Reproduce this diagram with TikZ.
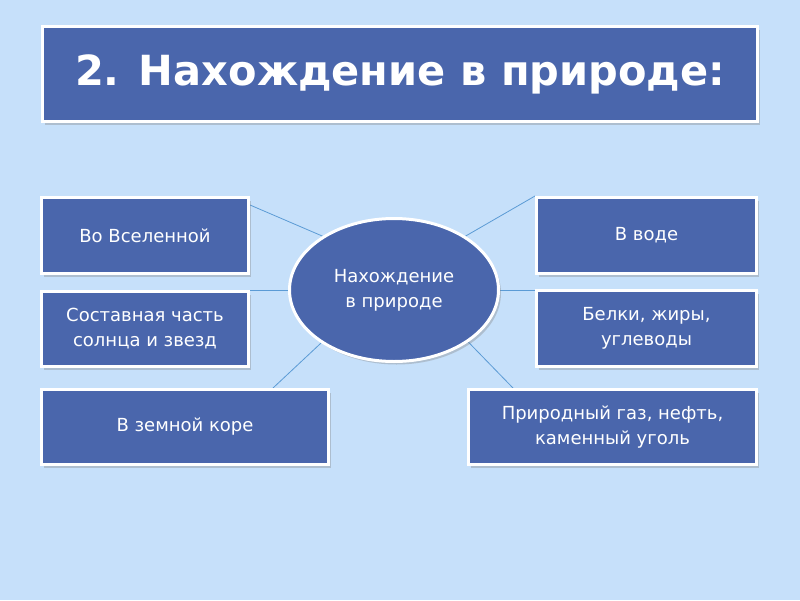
\documentclass[tikz,border=0pt]{standalone}
\usepackage{fontspec}
\setmainfont{DejaVu Sans}
\usetikzlibrary{shapes.geometric,shadows,calc,backgrounds}

\definecolor{hgblau}{RGB}{198,224,250}
\definecolor{kastenblau}{RGB}{74,102,172}
\definecolor{linienblau}{RGB}{91,155,213}

\tikzset{
  kasten/.style={draw=white, line width=3pt, fill=kastenblau, text=white,
    align=center, inner sep=0pt, font=\fontsize{18}{25}\selectfont,
    drop shadow={shadow xshift=2.5pt, shadow yshift=-3pt, opacity=0.35}},
  verbindung/.style={draw=linienblau, line width=0.8pt}
}

\begin{document}
\begin{tikzpicture}[x=1pt,y=-1pt]
\useasboundingbox (0,0) rectangle (800,600);

% Titel
\node[kasten, minimum width=715, minimum height=95,
      font=\fontsize{41.5}{48}\selectfont\bfseries] (titel) at (400,74)
      {2. Нахождение в природе:};

% Mitte
\node[kasten, ellipse, minimum width=209, minimum height=143] (mitte) at (394,290)
      {Нахождение\\в природе};

% Kästen links
\node[kasten, minimum width=207, minimum height=76] (all) at (145,235.5) {Во Вселенной};
\node[kasten, minimum width=207, minimum height=75] (sonne) at (145,329)
      {Составная часть\\солнца и звезд};
\node[kasten, minimum width=287, minimum height=75] (kruste) at (185,427) {В земной коре};

% Kästen rechts
\node[kasten, minimum width=220, minimum height=76] (wasser) at (646.5,235.5) {В воде};
\node[kasten, minimum width=220, minimum height=76] (eiweiss) at (646.5,328.5)
      {Белки, жиры,\\углеводы};
\node[kasten, minimum width=288, minimum height=75] (gas) at (612.5,427)
      {Природный газ, нефть,\\каменный уголь};

% Hintergrund und Verbindungen
\begin{scope}[on background layer]
\fill[hgblau] (0,0) rectangle (800,600);
\draw[verbindung] (mitte.143) -- ($(all.north east)+(0,9)$);
\draw[verbindung] (mitte.west) -- (mitte.west -| sonne.east);
\draw[verbindung] (mitte.216) -- ($(kruste.north)+(88,0)$);
\draw[verbindung] (mitte.37) -- (wasser.north west);
\draw[verbindung] (mitte.east) -- (mitte.east -| eiweiss.west);
\draw[verbindung] (mitte.325) -- ($(gas.north west)+(46,0)$);
\end{scope}

\end{tikzpicture}
\end{document}
